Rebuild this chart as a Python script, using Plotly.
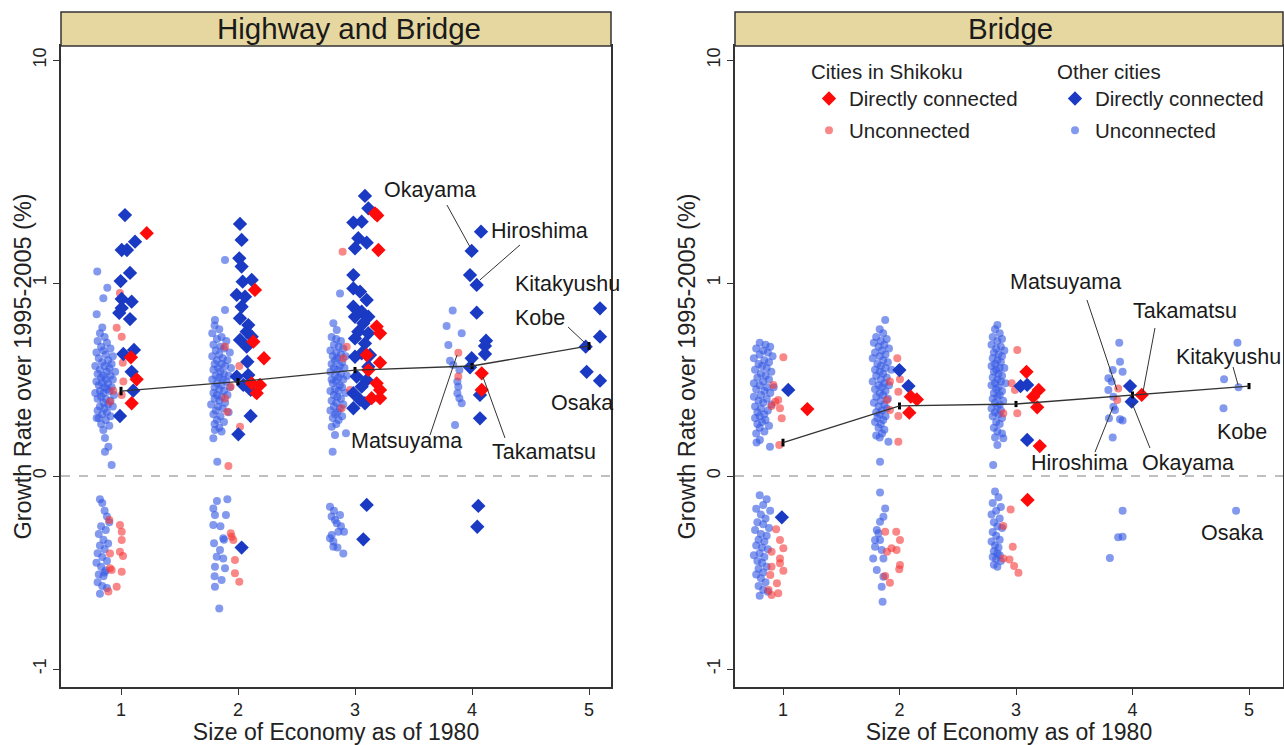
import plotly.graph_objects as go

# ---------------- DATA (y values are cube-root of growth rate, i.e. sign(g)*|g|^(1/3)) -------------
categories = [1, 2, 3, 4, 5]
y_tick_vals = [-1, 0, 1, 2.154]
y_tick_text = ["-1", "0", "1", "10"]

# Panel "Highway and Bridge"
hb_mean = [0.440, 0.489, 0.549, 0.570, 0.674]
hb_err = [0.022, 0.018, 0.016, 0.016, 0.020]

hb_other_unconnected = [
    (0.797, 1.059), (0.883, 0.976), (0.849, 0.921), (0.792, 0.838),
    (0.84, 0.77), (0.82, 0.74), (0.86, 0.72), (0.80, 0.70), (0.88, 0.69), (0.83, 0.67), (0.91, 0.66),
    (0.85, 0.65), (0.79, 0.64), (0.87, 0.63), (0.93, 0.62), (0.81, 0.61), (0.89, 0.60), (0.84, 0.59),
    (0.92, 0.58), (0.78, 0.57), (0.86, 0.57), (0.90, 0.56), (0.82, 0.55), (0.88, 0.54), (0.95, 0.54),
    (0.80, 0.53), (0.85, 0.52), (0.91, 0.52), (0.83, 0.51), (0.87, 0.50), (0.93, 0.50), (0.79, 0.49),
    (0.89, 0.48), (0.84, 0.48), (0.81, 0.47), (0.86, 0.46), (0.92, 0.46), (0.88, 0.45), (0.82, 0.44),
    (0.90, 0.44), (0.78, 0.43), (0.85, 0.43), (0.94, 0.42), (0.83, 0.41), (0.87, 0.40), (0.80, 0.40),
    (0.91, 0.39), (0.85, 0.38), (0.89, 0.37), (0.82, 0.36), (0.93, 0.36), (0.86, 0.35), (0.80, 0.34),
    (0.88, 0.33), (0.84, 0.32), (0.91, 0.31), (0.81, 0.30), (0.87, 0.29), (0.83, 0.27), (0.90, 0.26),
    (0.792, 0.301), (0.849, 0.238), (0.863, 0.197), (0.892, 0.152), (0.863, 0.126), (0.920, 0.057),
    (0.82, -0.12), (0.84, -0.14), (0.86, -0.18), (0.88, -0.21), (0.90, -0.24), (0.83, -0.26), (0.87, -0.28),
    (0.81, -0.30), (0.85, -0.33), (0.89, -0.35), (0.82, -0.36), (0.86, -0.38), (0.80, -0.40), (0.84, -0.42),
    (0.88, -0.44), (0.79, -0.45), (0.83, -0.47), (0.87, -0.49), (0.81, -0.51), (0.85, -0.52), (0.80, -0.55),
    (0.84, -0.57), (0.88, -0.58), (0.82, -0.61), (0.86, -0.50),
    (1.889, 1.119), (1.889, 0.860), (1.803, 0.808), (1.803, 0.238), (1.860, 0.230), (1.789, 0.195), (1.823, 0.074),
    (1.80, 0.78), (1.84, 0.76), (1.78, 0.74), (1.86, 0.72), (1.82, 0.71), (1.90, 0.70), (1.79, 0.68),
    (1.85, 0.67), (1.88, 0.66), (1.81, 0.65), (1.93, 0.64), (1.84, 0.63), (1.78, 0.62), (1.87, 0.61),
    (1.91, 0.60), (1.82, 0.60), (1.80, 0.58), (1.86, 0.58), (1.89, 0.57), (1.83, 0.56), (1.94, 0.56),
    (1.79, 0.55), (1.85, 0.54), (1.88, 0.53), (1.81, 0.52), (1.92, 0.52), (1.84, 0.51), (1.87, 0.50),
    (1.78, 0.50), (1.90, 0.49), (1.82, 0.48), (1.86, 0.47), (1.80, 0.46), (1.93, 0.46), (1.84, 0.45),
    (1.88, 0.44), (1.79, 0.43), (1.82, 0.42), (1.91, 0.42), (1.86, 0.41), (1.80, 0.40), (1.84, 0.39),
    (1.89, 0.38), (1.77, 0.37), (1.83, 0.36), (1.87, 0.35), (1.81, 0.34), (1.92, 0.33), (1.79, 0.32),
    (1.85, 0.31), (1.82, 0.29), (1.88, 0.28), (1.80, 0.27), (1.84, 0.25),
    (1.909, -0.121), (1.789, -0.168), (1.803, -0.202), (1.897, -0.202), (1.789, -0.254), (1.874, -0.323),
    (1.795, -0.349), (1.846, -0.383), (1.818, -0.418), (1.874, -0.427), (1.803, -0.470), (1.889, -0.478),
    (1.860, -0.539), (1.803, -0.574), (1.840, -0.686), (1.82, -0.13), (1.85, -0.26), (1.88, -0.33), (1.80, -0.52),
    (2.872, 0.946), (2.815, 0.791), (2.844, 0.756), (2.801, 0.255), (2.829, 0.212), (2.923, 0.221), (2.809, 0.126),
    (2.80, 0.72), (2.84, 0.71), (2.88, 0.70), (2.82, 0.68), (2.86, 0.67), (2.90, 0.66), (2.79, 0.65),
    (2.84, 0.64), (2.88, 0.63), (2.81, 0.62), (2.92, 0.62), (2.85, 0.61), (2.83, 0.60), (2.89, 0.59),
    (2.80, 0.58), (2.87, 0.57), (2.91, 0.56), (2.82, 0.56), (2.85, 0.55), (2.79, 0.54), (2.88, 0.53),
    (2.83, 0.52), (2.93, 0.52), (2.86, 0.51), (2.80, 0.50), (2.90, 0.50), (2.84, 0.49), (2.81, 0.48),
    (2.87, 0.47), (2.89, 0.46), (2.83, 0.45), (2.79, 0.44), (2.86, 0.44), (2.92, 0.43), (2.82, 0.42),
    (2.85, 0.41), (2.88, 0.40), (2.80, 0.39), (2.84, 0.38), (2.90, 0.37), (2.82, 0.36), (2.87, 0.35),
    (2.79, 0.34), (2.85, 0.33), (2.83, 0.32), (2.89, 0.31), (2.81, 0.30), (2.86, 0.29), (2.84, 0.27),
    (2.786, -0.159), (2.872, -0.202), (2.829, -0.228), (2.844, -0.245), (2.906, -0.289), (2.801, -0.306),
    (2.858, -0.289), (2.786, -0.323), (2.815, -0.340), (2.815, -0.366), (2.900, -0.401),
    (2.82, -0.18), (2.88, -0.26), (2.80, -0.21), (2.85, -0.37),
    (3.835, 0.857), (3.783, 0.777), (3.912, 0.739), (3.798, 0.679), (3.812, 0.597), (3.840, 0.575),
    (3.892, 0.549), (3.875, 0.489), (3.883, 0.463), (3.875, 0.429), (3.892, 0.403), (3.912, 0.377), (3.855, 0.264),
]

hb_shikoku_unconnected = [
    (0.991, 0.948), (0.963, 0.768), (1.006, 0.722), (1.015, 0.587), (1.020, 0.489), (0.934, 0.442),
    (0.906, 0.385), (1.006, 0.420),
    (0.991, -0.254), (1.006, -0.289), (0.900, -0.228), (1.006, -0.332), (0.991, -0.392), (0.906, -0.401),
    (0.906, -0.478), (1.006, -0.496), (0.963, -0.574), (0.892, -0.599), (0.920, -0.487), (1.017, -0.415),
    (1.889, 0.670), (2.011, 0.570), (1.938, 0.463), (1.889, 0.403), (1.909, 0.333), (2.017, 0.255), (1.918, 0.052),
    (1.938, -0.297), (1.960, -0.332), (1.974, -0.435), (1.974, -0.504), (2.011, -0.548), (1.946, -0.315),
    (2.894, 1.162), (2.929, 0.670), (2.900, 0.610), (2.957, 0.446), (2.886, 0.351),
    (3.883, 0.639), (3.883, 0.515),
]

hb_other_connected = [
    (1.034, 1.352), (1.006, 1.171), (1.051, 1.171), (1.120, 1.214), (1.077, 1.052), (0.997, 1.010),
    (1.006, 0.917), (1.091, 0.903), (1.006, 0.870), (0.985, 0.845), (1.077, 0.813), (1.020, 0.632),
    (1.111, 0.653), (1.091, 0.540), (1.105, 0.442), (0.991, 0.311),
    (2.017, 1.306), (2.031, 1.223), (2.011, 1.128), (2.031, 1.085), (2.040, 1.007), (2.117, 1.016),
    (1.989, 0.938), (2.060, 0.929), (2.031, 0.877), (2.017, 0.817), (2.088, 0.782), (2.074, 0.748),
    (2.117, 0.722), (2.017, 0.705), (2.074, 0.670), (2.080, 0.592), (1.989, 0.515), (2.088, 0.523),
    (2.045, 0.472), (2.108, 0.446), (2.108, 0.311), (2.003, 0.216), (2.031, -0.371),
    (3.085, 1.451), (3.114, 1.387), (2.986, 1.313), (3.057, 1.318), (3.028, 1.232), (3.100, 1.209),
    (3.000, 1.180), (2.986, 1.041), (2.986, 0.972), (3.043, 0.955), (3.100, 0.912), (2.986, 0.877),
    (3.057, 0.851), (3.114, 0.825), (3.000, 0.825), (3.071, 0.791), (3.028, 0.748), (3.114, 0.739),
    (3.000, 0.713), (3.085, 0.687), (3.057, 0.636), (3.128, 0.627), (3.000, 0.618), (3.114, 0.566),
    (3.014, 0.515), (3.100, 0.497), (3.057, 0.463), (2.986, 0.429), (3.043, 0.394), (3.085, 0.377),
    (2.986, 0.351), (3.100, -0.150), (3.071, -0.328),
    (4.077, 1.266), (3.997, 1.166), (3.983, 1.041), (4.040, 0.990), (4.040, 0.846), (4.120, 0.701),
    (4.111, 0.674), (4.111, 0.632), (3.997, 0.610), (3.983, 0.563), (4.068, 0.420), (4.068, 0.299),
    (4.054, -0.155), (4.045, -0.263),
    (5.094, 0.869), (5.094, 0.722), (4.972, 0.670), (4.980, 0.540), (5.094, 0.494),
]

hb_shikoku_connected = [
    (1.220, 1.258), (1.085, 0.615), (1.134, 0.501), (1.091, 0.377),
    (2.145, 0.964), (2.131, 0.696), (2.222, 0.610), (2.117, 0.480), (2.188, 0.472), (2.160, 0.429),
    (3.171, 1.361), (3.200, 1.171), (3.185, 0.774), (3.214, 0.739), (3.100, 0.627), (3.214, 0.587),
    (3.114, 0.549), (3.185, 0.480), (3.214, 0.446), (3.142, 0.403), (3.214, 0.403), (3.190, 1.350),
    (4.083, 0.532), (4.083, 0.446),
]

# Panel "Bridge"
br_mean = [0.173, 0.363, 0.373, 0.420, 0.466]
br_err = [0.020, 0.018, 0.016, 0.018, 0.016]

br_other_unconnected = [
    (0.80, 0.69), (0.85, 0.68), (0.89, 0.67), (0.77, 0.66), (0.83, 0.65), (0.87, 0.64), (0.80, 0.63),
    (0.91, 0.62), (0.75, 0.61), (0.84, 0.60), (0.88, 0.59), (0.79, 0.58), (0.82, 0.57), (0.86, 0.56),
    (0.76, 0.55), (0.90, 0.54), (0.81, 0.53), (0.85, 0.52), (0.78, 0.51), (0.88, 0.50), (0.83, 0.49),
    (0.75, 0.48), (0.80, 0.47), (0.86, 0.46), (0.92, 0.46), (0.77, 0.45), (0.84, 0.44), (0.89, 0.43),
    (0.81, 0.42), (0.75, 0.41), (0.86, 0.40), (0.79, 0.39), (0.83, 0.38), (0.90, 0.37), (0.76, 0.36),
    (0.81, 0.35), (0.87, 0.34), (0.78, 0.33), (0.84, 0.32), (0.80, 0.31), (0.76, 0.30), (0.85, 0.29),
    (0.82, 0.28), (0.78, 0.27), (0.88, 0.26), (0.80, 0.25), (0.84, 0.23), (0.77, 0.22),
    (0.802, 0.187), (0.888, 0.152), (0.773, 0.173),
    (0.80, -0.10), (0.86, -0.12), (0.83, -0.15), (0.77, -0.17), (0.89, -0.18), (0.81, -0.20), (0.85, -0.22),
    (0.78, -0.24), (0.83, -0.25), (0.88, -0.27), (0.76, -0.28), (0.81, -0.30), (0.86, -0.31), (0.79, -0.33),
    (0.84, -0.34), (0.77, -0.36), (0.82, -0.37), (0.87, -0.38), (0.80, -0.40), (0.75, -0.41), (0.84, -0.42),
    (0.78, -0.44), (0.82, -0.45), (0.86, -0.47), (0.79, -0.48), (0.83, -0.50), (0.77, -0.51), (0.81, -0.53),
    (0.85, -0.55), (0.79, -0.57), (0.83, -0.59), (0.87, -0.60), (0.80, -0.62),
    (1.877, 0.808), (1.833, 0.074), (1.905, 0.178),
    (1.83, 0.76), (1.86, 0.74), (1.80, 0.72), (1.89, 0.71), (1.84, 0.70), (1.78, 0.69), (1.87, 0.68),
    (1.82, 0.67), (1.91, 0.66), (1.85, 0.65), (1.79, 0.64), (1.88, 0.63), (1.83, 0.62), (1.77, 0.61),
    (1.86, 0.60), (1.90, 0.59), (1.81, 0.58), (1.84, 0.57), (1.88, 0.56), (1.79, 0.55), (1.93, 0.55),
    (1.83, 0.54), (1.86, 0.53), (1.80, 0.52), (1.89, 0.51), (1.84, 0.50), (1.77, 0.49), (1.87, 0.48),
    (1.82, 0.47), (1.91, 0.47), (1.85, 0.46), (1.79, 0.45), (1.88, 0.44), (1.83, 0.43), (1.86, 0.42),
    (1.80, 0.41), (1.90, 0.40), (1.84, 0.39), (1.78, 0.38), (1.87, 0.37), (1.82, 0.36), (1.89, 0.35),
    (1.85, 0.34), (1.80, 0.33), (1.83, 0.32), (1.88, 0.31), (1.81, 0.30), (1.86, 0.29), (1.79, 0.28),
    (1.84, 0.27), (1.82, 0.25), (1.87, 0.24), (1.85, 0.22), (1.80, 0.21), (1.83, 0.20),
    (1.833, -0.086), (1.877, -0.168), (1.862, -0.211), (1.833, -0.237), (1.805, -0.280), (1.833, -0.332),
    (1.790, -0.366), (1.847, -0.383), (1.774, -0.427), (1.862, -0.427), (1.805, -0.487), (1.862, -0.522),
    (1.847, -0.574), (1.855, -0.651), (1.819, -0.297), (1.790, -0.332),
    (2.84, 0.782), (2.840, 0.161), (2.804, 0.057), (2.891, 0.195),
    (2.82, 0.76), (2.86, 0.74), (2.80, 0.72), (2.88, 0.71), (2.84, 0.70), (2.79, 0.68), (2.87, 0.67),
    (2.83, 0.66), (2.90, 0.65), (2.81, 0.64), (2.85, 0.63), (2.88, 0.62), (2.80, 0.61), (2.84, 0.60),
    (2.87, 0.59), (2.82, 0.58), (2.79, 0.57), (2.86, 0.56), (2.90, 0.56), (2.83, 0.55), (2.81, 0.54),
    (2.85, 0.53), (2.88, 0.52), (2.80, 0.51), (2.84, 0.50), (2.87, 0.49), (2.82, 0.48), (2.91, 0.48),
    (2.79, 0.47), (2.85, 0.46), (2.83, 0.45), (2.88, 0.44), (2.81, 0.43), (2.86, 0.42), (2.84, 0.41),
    (2.80, 0.40), (2.89, 0.39), (2.82, 0.38), (2.86, 0.37), (2.84, 0.36), (2.79, 0.35), (2.87, 0.34),
    (2.82, 0.33), (2.85, 0.32), (2.80, 0.31), (2.88, 0.30), (2.83, 0.28), (2.86, 0.27), (2.81, 0.25),
    (2.84, 0.23), (2.88, 0.22), (2.82, 0.20),
    (2.82, -0.08), (2.85, -0.11), (2.80, -0.14), (2.87, -0.16), (2.83, -0.18), (2.79, -0.20), (2.86, -0.22),
    (2.81, -0.24), (2.84, -0.26), (2.88, -0.27), (2.80, -0.29), (2.83, -0.31), (2.86, -0.33), (2.79, -0.34),
    (2.82, -0.36), (2.85, -0.37), (2.81, -0.39), (2.84, -0.40), (2.80, -0.42), (2.83, -0.43), (2.87, -0.44),
    (2.81, -0.46), (2.84, -0.47), (2.86, -0.41),
    (3.886, 0.691), (3.893, 0.592), (3.830, 0.549), (3.915, 0.540), (3.793, 0.506), (3.821, 0.489),
    (3.793, 0.446), (3.836, 0.359), (3.850, 0.342), (3.798, 0.299), (3.893, 0.294), (3.915, 0.287),
    (3.830, 0.200), (3.836, 0.411),
    (3.915, -0.180), (3.877, -0.318), (3.915, -0.315), (3.806, -0.425),
    (4.901, 0.691), (4.786, 0.501), (4.910, 0.460), (4.781, 0.351), (4.889, -0.180),
]

br_shikoku_unconnected = [
    (1.003, 0.615), (0.917, 0.472), (0.959, 0.394), (0.902, 0.363), (0.974, 0.351), (0.989, 0.299),
    (0.968, 0.161), (0.934, 0.385),
    (0.941, -0.276), (0.974, -0.332), (1.003, -0.375), (0.902, -0.392), (0.974, -0.427), (0.902, -0.470),
    (1.003, -0.491), (0.891, -0.513), (0.948, -0.556), (0.876, -0.591), (0.959, -0.608), (0.902, -0.617),
    (0.974, -0.452),
    (1.981, 0.610), (1.918, 0.489), (2.004, 0.501), (1.990, 0.437), (1.893, 0.394), (1.918, 0.342),
    (1.990, 0.311), (1.990, 0.178),
    (1.877, -0.289), (1.972, -0.289), (2.004, -0.332), (1.932, -0.375), (1.975, -0.383), (1.893, -0.392),
    (2.004, -0.461), (1.998, -0.483), (1.877, -0.518), (1.918, -0.553),
    (3.011, 0.653), (2.963, 0.480), (2.991, 0.446), (3.011, 0.325), (2.891, 0.325),
    (2.954, -0.173), (2.891, -0.259), (2.972, -0.366), (2.891, -0.427), (2.944, -0.432), (2.984, -0.466),
    (3.021, -0.501),
    (3.877, 0.454), (3.869, 0.394),
]

br_other_connected = [
    (1.045, 0.446), (0.990, -0.214),
    (1.999, 0.549), (2.077, 0.466),
    (3.039, 0.466), (3.096, 0.472), (3.096, 0.187),
    (3.979, 0.466), (3.993, 0.385),
]

br_shikoku_connected = [
    (1.209, 0.347),
    (2.097, 0.411), (2.149, 0.397), (2.084, 0.328),
    (3.090, 0.540), (3.195, 0.446), (3.147, 0.411), (3.182, 0.356), (3.204, 0.155), (3.099, -0.124),
    (4.079, 0.420),
]

# City labels: (text, label x, label y, leader from (x0,y0) to (x1,y1) or None)
hb_labels = [
    ("Okayama", 3.641, 1.482, (3.786, 1.404, 3.983, 1.187)),
    ("Hiroshima", 4.581, 1.269, (4.410, 1.197, 4.068, 1.016)),
    ("Kitakyushu", 4.812, 0.995, None),
    ("Kobe", 4.581, 0.819, (4.821, 0.772, 4.966, 0.689)),
    ("Osaka", 4.940, 0.378, None),
    ("Matsuyama", 3.444, 0.181, (3.641, 0.212, 3.872, 0.627)),
    ("Takamatsu", 4.615, 0.124, (4.282, 0.197, 4.094, 0.513)),
]
br_labels = [
    ("Matsuyama", 3.421, 1.005, (3.609, 0.912, 3.867, 0.446)),
    ("Takamatsu", 4.451, 0.855, (4.193, 0.767, 4.090, 0.435)),
    ("Kitakyushu", 4.820, 0.617, (4.863, 0.565, 4.906, 0.472)),
    ("Kobe", 4.940, 0.228, None),
    ("Hiroshima", 3.549, 0.067, (3.678, 0.124, 3.833, 0.358)),
    ("Okayama", 4.476, 0.067, (4.150, 0.145, 3.996, 0.378)),
    ("Osaka", 4.854, -0.295, None),
]

# ---------------- STYLE ----------------
FONT = "Liberation Sans, Arial, sans-serif"
C_LB = "rgba(55,90,228,0.62)"
C_PK = "rgba(245,55,55,0.6)"
C_BL = "#1a3ac4"
C_RD = "#ff0a0a"
W, H = 1284, 745
L_PX = (61, 611)
R_PX = (735, 1283)
TOP_PX, BOT_PX, STRIP_TOP = 46, 687, 12

fig = go.Figure()


def add_panel(xa, ya, oth_unc, shk_unc, oth_con, shk_con, means, errs, show_legend):
    specs = [
        (oth_unc, "Unconnected", C_LB, "circle", 8, "legend2", 2),
        (shk_unc, "Unconnected", C_PK, "circle", 8, "legend", 2),
        (oth_con, "Directly connected", C_BL, "diamond", 11, "legend2", 1),
        (shk_con, "Directly connected", C_RD, "diamond", 11, "legend", 1),
    ]
    for pts, name, col, sym, sz, lg, rank in specs:
        xs = [p[0] for p in pts]
        ys = [p[1] for p in pts]
        fig.add_trace(go.Scatter(
            x=xs, y=ys, mode="markers", name=name, xaxis=xa, yaxis=ya,
            marker=dict(color=col, symbol=sym, size=sz, line=dict(width=0)),
            showlegend=show_legend, legend=lg, legendrank=rank,
            legendgroup=lg + name,
        ))
    fig.add_trace(go.Scatter(
        x=categories, y=means, mode="lines+markers", xaxis=xa, yaxis=ya,
        line=dict(color="#333333", width=1.3),
        marker=dict(size=1, color="black"),
        error_y=dict(type="data", array=errs, color="black", thickness=3, width=0),
        showlegend=False,
    ))


add_panel("x", "y", hb_other_unconnected, hb_shikoku_unconnected, hb_other_connected,
          hb_shikoku_connected, hb_mean, hb_err, False)
add_panel("x2", "y2", br_other_unconnected, br_shikoku_unconnected, br_other_connected,
          br_shikoku_connected, br_mean, br_err, True)

ydom = [(H - BOT_PX) / H, (H - TOP_PX) / H]
yrng = [(476 - BOT_PX) / 193, (476 - TOP_PX) / 193]

axis_common = dict(showline=True, mirror=True, linecolor="#333333", linewidth=1.5,
                   showgrid=False, zeroline=False, ticks="outside", ticklen=6, automargin=False,
                   tickcolor="#333333", tickfont=dict(size=18, color="#222222", family=FONT))

XT = dict(text="Size of Economy as of 1980", font=dict(size=23))
Y_TITLE = "Growth Rate over 1995-2005 (%)"

fig.update_layout(
    width=W, height=H,
    margin=dict(l=0, r=0, t=0, b=0, autoexpand=False),
    paper_bgcolor="white", plot_bgcolor="white",
    font=dict(family=FONT, color="#222222"),
    xaxis=dict(domain=[L_PX[0] / W, L_PX[1] / W], range=[(L_PX[0] - 4) / 117, (L_PX[1] - 4) / 117],
               tickvals=categories, title=XT, **axis_common),
    yaxis=dict(domain=ydom, range=yrng, tickvals=y_tick_vals, ticktext=y_tick_text, tickangle=-90,
               anchor="x", **axis_common),
    xaxis2=dict(domain=[R_PX[0] / W, R_PX[1] / W],
                range=[(R_PX[0] - 666.5) / 116.5, (R_PX[1] - 666.5) / 116.5],
                tickvals=categories, anchor="y2", title=XT, **axis_common),
    yaxis2=dict(domain=ydom, range=yrng, tickvals=y_tick_vals, ticktext=y_tick_text, tickangle=-90,
                anchor="x2", **axis_common),
    legend=dict(x=809 / W, y=(H - 52) / H, xanchor="left", yanchor="top",
                bgcolor="rgba(0,0,0,0)", font=dict(size=20.5, color="#222222"),
                title=dict(text="Cities in Shikoku", font=dict(size=20.5, color="#222222")),
                tracegroupgap=2, itemsizing="trace"),
    legend2=dict(x=1055 / W, y=(H - 52) / H, xanchor="left", yanchor="top",
                 bgcolor="rgba(0,0,0,0)", font=dict(size=20.5, color="#222222"),
                 title=dict(text="Other cities", font=dict(size=20.5, color="#222222")),
                 tracegroupgap=2, itemsizing="trace"),
)

shapes = []
annotations = []
for (x0, x1), title, tx in [(L_PX, "Highway and Bridge", 349), (R_PX, "Bridge", 1010)]:
    shapes.append(dict(type="rect", xref="paper", yref="paper",
                       x0=x0 / W, x1=x1 / W, y0=(H - TOP_PX) / H, y1=(H - STRIP_TOP) / H,
                       fillcolor="#e6d7a0", line=dict(color="#333333", width=1.5)))
    annotations.append(dict(xref="paper", yref="paper", x=tx / W,
                            y=(H - (STRIP_TOP + TOP_PX) / 2) / H, text=title, showarrow=False,
                            font=dict(size=29.5, color="#1a1a1a", family=FONT), xanchor="center", yanchor="middle"))

# y-axis titles (rotated text placed beside each panel)
for cx in (22, 686):
    annotations.append(dict(xref="paper", yref="paper", x=cx / W, y=(H - (TOP_PX + BOT_PX) / 2) / H,
                            text=Y_TITLE, textangle=-90, showarrow=False, xanchor="center", yanchor="middle",
                            font=dict(size=23.5, color="#222222", family=FONT)))

for xa, ya in [("x", "y"), ("x2", "y2")]:
    shapes.append(dict(type="line", xref=xa + " domain", yref=ya, x0=0, x1=1, y0=0, y1=0,
                       line=dict(color="#aaaaaa", width=1.5, dash="dash"), layer="below"))

for labels, xa, ya in [(hb_labels, "x", "y"), (br_labels, "x2", "y2")]:
    for text, lx, ly, leader in labels:
        annotations.append(dict(xref=xa, yref=ya, x=lx, y=ly, text=text, showarrow=False,
                                font=dict(size=21.5, color="#1a1a1a", family=FONT)))
        if leader:
            shapes.append(dict(type="line", xref=xa, yref=ya, x0=leader[0], y0=leader[1],
                               x1=leader[2], y1=leader[3], line=dict(color="#333333", width=1)))

fig.update_layout(shapes=shapes, annotations=annotations)
fig.write_html("out.html", config={"displayModeBar": False},
               post_script="document.body.style.margin='0px';document.body.style.overflow='hidden';")
